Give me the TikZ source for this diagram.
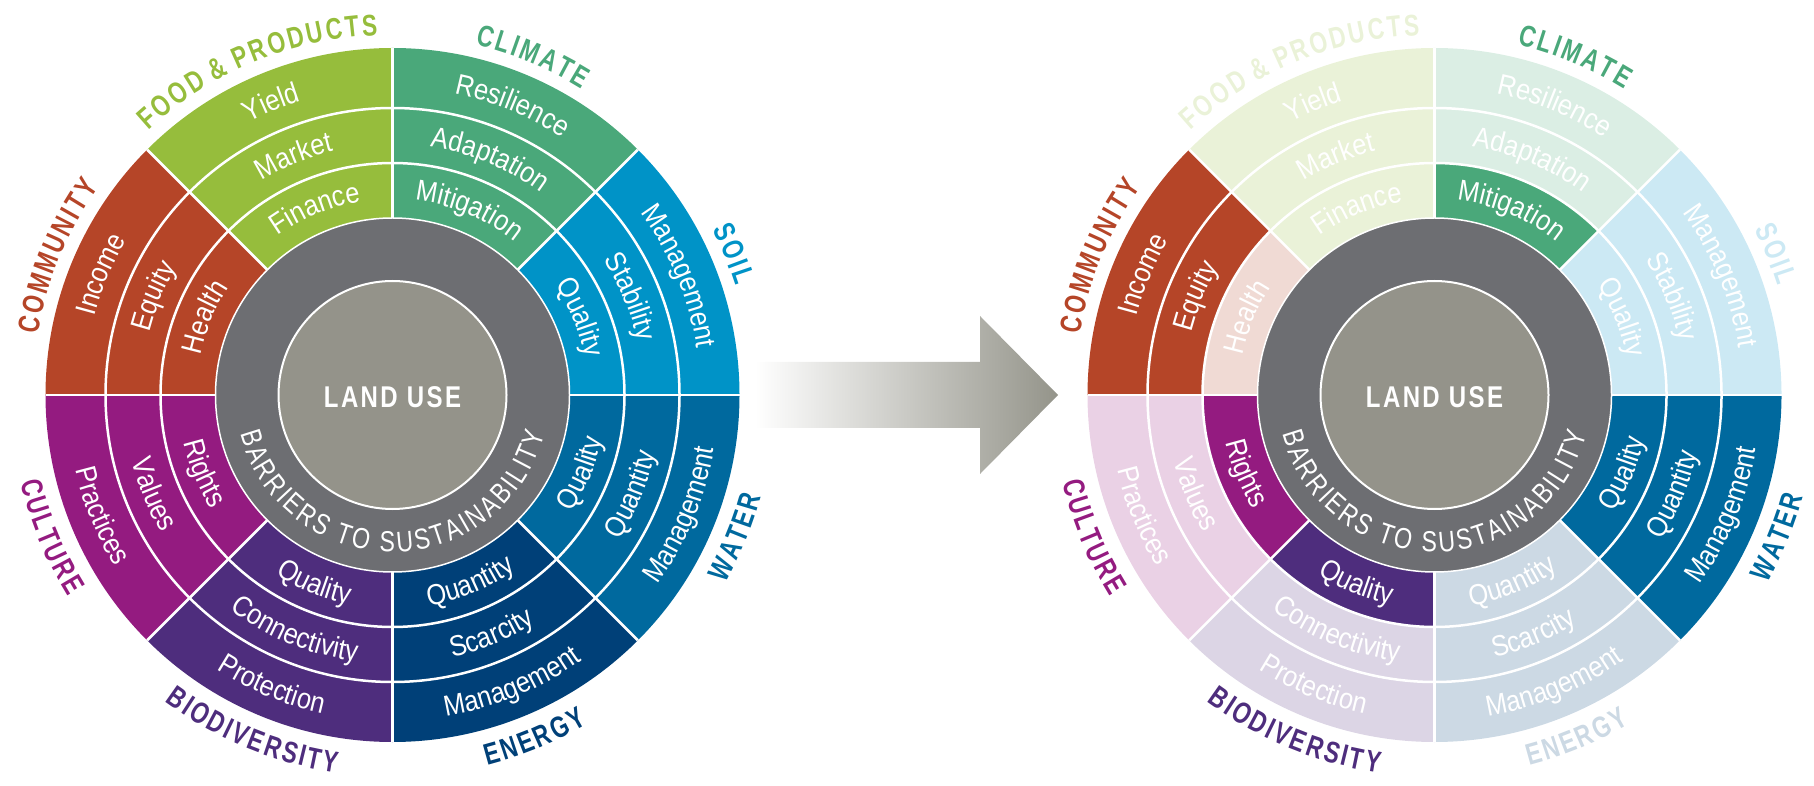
\documentclass[tikz,border=0pt]{standalone}
\usepackage{fontspec}
\usetikzlibrary{decorations.text}
\newfontfamily\subfont[FakeStretch=0.88]{Liberation Sans}
\newfontfamily\catfont[FakeStretch=0.76]{Liberation Sans}
\newfontfamily\capsfont[FakeStretch=0.8,LetterSpace=8]{Liberation Sans}
\newcommand{\subfmt}{\subfont\fontsize{29}{29}\selectfont}
\newcommand{\catfmt}{\catfont\bfseries\fontsize{30}{30}\selectfont}
\newcommand{\barfmt}{\capsfont\fontsize{29}{29}\selectfont}
\newcommand{\landfmt}{\capsfont\bfseries\fontsize{30}{30}\selectfont}
\newcommand{\trk}{\kern2.5pt}
\newcommand{\btrk}{\kern2.6pt}
\definecolor{community}{HTML}{B54528}
\definecolor{food}{HTML}{96BD3C}
\definecolor{climate}{HTML}{4AA87A}
\definecolor{soil}{HTML}{0093C7}
\definecolor{water}{HTML}{00699E}
\definecolor{energy}{HTML}{004078}
\definecolor{biodiv}{HTML}{4E2D7D}
\definecolor{culture}{HTML}{941B80}
\definecolor{ringgray}{HTML}{6D6E72}
\definecolor{coregray}{HTML}{94938A}
\definecolor{arrowgray}{HTML}{94948A}
\tikzset{
  sep/.style={white, line width=2.5pt},
  thinsep/.style={white, line width=1.5pt}
}
\newcommand{\wedgecell}[4]{%
  \fill[#4] (#1:#2) arc[start angle=#1, end angle={#1+45}, radius=#2]
    -- ({#1+45}:#3) arc[start angle={#1+45}, end angle=#1, radius=#3] -- cycle;}
\newcommand{\arctext}[6]{%
  \path[decorate, decoration={text along path, text align=center,
    text color=#5, text={|#6|#4}}]
    (#1:#3) arc[start angle=#1, end angle=#2, radius=#3];}
\newcommand{\hub}[1]{%
  \fill[ringgray] (0,0) circle[radius=177];
  \draw[thinsep] (0,0) circle[radius=177];
  \foreach \a in {0,45,...,315} \draw[sep] (\a:177) -- (\a:347);
  \draw[sep] (0,0) circle[radius=232] (0,0) circle[radius=287];
  \fill[coregray, draw=white, line width=2pt] (0,0) circle[radius=114];
  \node[font=\landfmt, text=white] (landuse#1) at (0,-2) {LAND USE};
  \arctext{180}{360}{157}{{B\btrk}{A\btrk}{R\btrk}{R\btrk}{I\btrk}{E\btrk}{R\btrk}{S\btrk} {T\btrk}{O\btrk} {S\btrk}{U\btrk}{S\btrk}{T\btrk}{A\btrk}{I\btrk}{N\btrk}{A\btrk}{B\btrk}{I\btrk}{L\btrk}{I\btrk}{T\btrk}Y}{white}{\barfmt}}
\begin{document}
\begin{tikzpicture}[x=1pt, y=1pt]
  \useasboundingbox (0,0) rectangle (1814,785);
  \begin{scope}[shift={(392.5,390)}]
    \wedgecell{135}{177}{347}{community}
    \wedgecell{90}{177}{347}{food}
    \wedgecell{45}{177}{347}{climate}
    \wedgecell{0}{177}{347}{soil}
    \wedgecell{315}{177}{347}{water}
    \wedgecell{270}{177}{347}{energy}
    \wedgecell{225}{177}{347}{biodiv}
    \wedgecell{180}{177}{347}{culture}
    \hub{L}
    \arctext{180}{135}{308}{Income}{white}{\subfmt}
    \arctext{180}{135}{251}{Equity}{white}{\subfmt}
    \arctext{180}{135}{196}{Health}{white}{\subfmt}
    \arctext{135}{90}{308}{Yield}{white}{\subfmt}
    \arctext{135}{90}{251}{Market}{white}{\subfmt}
    \arctext{135}{90}{196}{Finance}{white}{\subfmt}
    \arctext{90}{45}{308}{Resilience}{white}{\subfmt}
    \arctext{90}{45}{251}{Adaptation}{white}{\subfmt}
    \arctext{90}{45}{196}{Mitigation}{white}{\subfmt}
    \arctext{45}{0}{308}{Management}{white}{\subfmt}
    \arctext{45}{0}{251}{Stability}{white}{\subfmt}
    \arctext{45}{0}{196}{Quality}{white}{\subfmt}
    \arctext{180}{225}{326}{Practices}{white}{\subfmt}
    \arctext{180}{225}{269}{Values}{white}{\subfmt}
    \arctext{180}{225}{214}{Rights}{white}{\subfmt}
    \arctext{225}{270}{326}{Protection}{white}{\subfmt}
    \arctext{225}{270}{269}{Connectivity}{white}{\subfmt}
    \arctext{225}{270}{214}{Quality}{white}{\subfmt}
    \arctext{270}{315}{326}{Management}{white}{\subfmt}
    \arctext{270}{315}{269}{Scarcity}{white}{\subfmt}
    \arctext{270}{315}{214}{Quantity}{white}{\subfmt}
    \arctext{315}{360}{326}{Management}{white}{\subfmt}
    \arctext{315}{360}{269}{Quantity}{white}{\subfmt}
    \arctext{315}{360}{214}{Quality}{white}{\subfmt}
    \arctext{195}{120}{360}{{C\trk}{O\trk}{M\trk}{M\trk}{U\trk}{N\trk}{I\trk}{T\trk}Y}{community}{\catfmt}
    \arctext{150}{75}{360}{{F\trk}{O\trk}{O\trk}{D\trk} {\&\trk} {P\trk}{R\trk}{O\trk}{D\trk}{U\trk}{C\trk}{T\trk}S}{food}{\catfmt}
    \arctext{105}{30}{360}{{C\trk}{L\trk}{I\trk}{M\trk}{A\trk}{T\trk}E}{climate}{\catfmt}
    \arctext{60}{-15}{360}{{S\trk}{O\trk}{I\trk}L}{soil}{\catfmt}
    \arctext{165}{240}{382}{{C\trk}{U\trk}{L\trk}{T\trk}{U\trk}{R\trk}E}{culture}{\catfmt}
    \arctext{210}{285}{382}{{B\trk}{I\trk}{O\trk}{D\trk}{I\trk}{V\trk}{E\trk}{R\trk}{S\trk}{I\trk}{T\trk}Y}{biodiv}{\catfmt}
    \arctext{255}{330}{382}{{E\trk}{N\trk}{E\trk}{R\trk}{G\trk}Y}{energy}{\catfmt}
    \arctext{300}{375}{382}{{W\trk}{A\trk}{T\trk}{E\trk}R}{water}{\catfmt}
  \end{scope}
  \shade[left color=white, right color=arrowgray]
    (755,357) -- (980,357) -- (980,311) -- (1058,390) -- (980,469)
    -- (980,423) -- (755,423) -- cycle;
  \begin{scope}[shift={(1434.5,390)}]
    \wedgecell{135}{287}{347}{community}
    \wedgecell{135}{232}{287}{community}
    \wedgecell{135}{177}{232}{community!20}
    \wedgecell{90}{177}{347}{food!20}
    \wedgecell{45}{232}{347}{climate!20}
    \wedgecell{45}{177}{232}{climate}
    \wedgecell{0}{177}{347}{soil!20}
    \wedgecell{315}{177}{347}{water}
    \wedgecell{270}{177}{347}{energy!20}
    \wedgecell{225}{232}{347}{biodiv!20}
    \wedgecell{225}{177}{232}{biodiv}
    \wedgecell{180}{232}{347}{culture!20}
    \wedgecell{180}{177}{232}{culture}
    \hub{R}
    \arctext{180}{135}{308}{Income}{white}{\subfmt}
    \arctext{180}{135}{251}{Equity}{white}{\subfmt}
    \arctext{180}{135}{196}{Health}{white}{\subfmt}
    \arctext{135}{90}{308}{Yield}{white}{\subfmt}
    \arctext{135}{90}{251}{Market}{white}{\subfmt}
    \arctext{135}{90}{196}{Finance}{white}{\subfmt}
    \arctext{90}{45}{308}{Resilience}{white}{\subfmt}
    \arctext{90}{45}{251}{Adaptation}{white}{\subfmt}
    \arctext{90}{45}{196}{Mitigation}{white}{\subfmt}
    \arctext{45}{0}{308}{Management}{white}{\subfmt}
    \arctext{45}{0}{251}{Stability}{white}{\subfmt}
    \arctext{45}{0}{196}{Quality}{white}{\subfmt}
    \arctext{180}{225}{326}{Practices}{white}{\subfmt}
    \arctext{180}{225}{269}{Values}{white}{\subfmt}
    \arctext{180}{225}{214}{Rights}{white}{\subfmt}
    \arctext{225}{270}{326}{Protection}{white}{\subfmt}
    \arctext{225}{270}{269}{Connectivity}{white}{\subfmt}
    \arctext{225}{270}{214}{Quality}{white}{\subfmt}
    \arctext{270}{315}{326}{Management}{white}{\subfmt}
    \arctext{270}{315}{269}{Scarcity}{white}{\subfmt}
    \arctext{270}{315}{214}{Quantity}{white}{\subfmt}
    \arctext{315}{360}{326}{Management}{white}{\subfmt}
    \arctext{315}{360}{269}{Quantity}{white}{\subfmt}
    \arctext{315}{360}{214}{Quality}{white}{\subfmt}
    \arctext{195}{120}{360}{{C\trk}{O\trk}{M\trk}{M\trk}{U\trk}{N\trk}{I\trk}{T\trk}Y}{community}{\catfmt}
    \arctext{150}{75}{360}{{F\trk}{O\trk}{O\trk}{D\trk} {\&\trk} {P\trk}{R\trk}{O\trk}{D\trk}{U\trk}{C\trk}{T\trk}S}{food!20}{\catfmt}
    \arctext{105}{30}{360}{{C\trk}{L\trk}{I\trk}{M\trk}{A\trk}{T\trk}E}{climate}{\catfmt}
    \arctext{60}{-15}{360}{{S\trk}{O\trk}{I\trk}L}{soil!20}{\catfmt}
    \arctext{165}{240}{382}{{C\trk}{U\trk}{L\trk}{T\trk}{U\trk}{R\trk}E}{culture}{\catfmt}
    \arctext{210}{285}{382}{{B\trk}{I\trk}{O\trk}{D\trk}{I\trk}{V\trk}{E\trk}{R\trk}{S\trk}{I\trk}{T\trk}Y}{biodiv}{\catfmt}
    \arctext{255}{330}{382}{{E\trk}{N\trk}{E\trk}{R\trk}{G\trk}Y}{energy!20}{\catfmt}
    \arctext{300}{375}{382}{{W\trk}{A\trk}{T\trk}{E\trk}R}{water}{\catfmt}
  \end{scope}
\end{tikzpicture}
\end{document}
